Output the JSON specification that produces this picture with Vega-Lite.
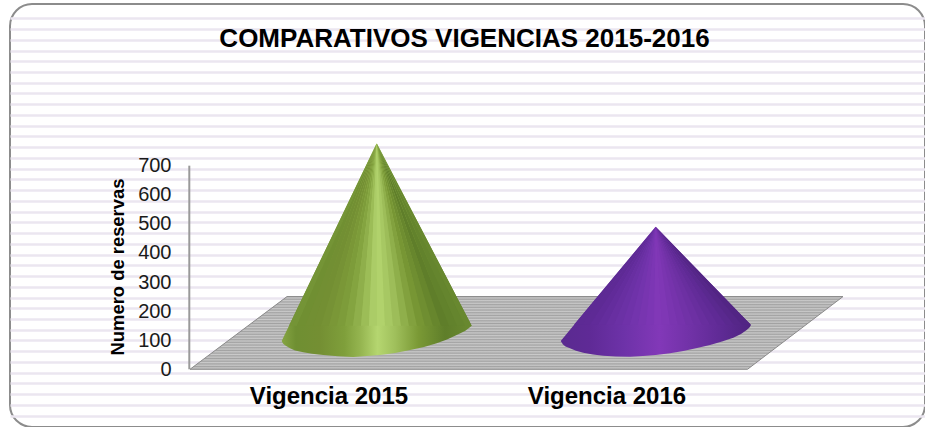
{"$schema":"https://vega.github.io/schema/vega-lite/v6.json","width":915,"height":423,"autosize":{"type":"none"},"padding":{"left":10,"top":4,"right":0,"bottom":0},"background":"white","config":{"font":"Liberation Sans","view":{"stroke":"#8c8c8c","strokeWidth":2,"cornerRadius":22,"fill":"white"}},"title":{"text":"COMPARATIVOS VIGENCIAS 2015-2016","font":"Liberation Sans","fontSize":26,"fontWeight":"bold","color":"#000000","anchor":"middle","dx":-3,"offset":-48},"datasets":{"conos":[{"s":"2015","x":281.7,"sup":97.3,"inf":97.3},{"s":"2015","x":283,"sup":106.6,"inf":88.7},{"s":"2015","x":285,"sup":121,"inf":82.5},{"s":"2015","x":290,"sup":156.8,"inf":72.2},{"s":"2015","x":295,"sup":192.5,"inf":65},{"s":"2015","x":303.3,"sup":251.6,"inf":58.4},{"s":"2015","x":312,"sup":313.5,"inf":53.3},{"s":"2015","x":323.3,"sup":395,"inf":49.2},{"s":"2015","x":338,"sup":499.5,"inf":45},{"s":"2015","x":353.3,"sup":609.5,"inf":42.3},{"s":"2015","x":376.7,"sup":776.9,"inf":48},{"s":"2015","x":380,"sup":755.2,"inf":49.2},{"s":"2015","x":395,"sup":656,"inf":56},{"s":"2015","x":410,"sup":557.2,"inf":66.3},{"s":"2015","x":424,"sup":464.8,"inf":76.7},{"s":"2015","x":436.7,"sup":380.9,"inf":89.4},{"s":"2015","x":447,"sup":312.8,"inf":102.4},{"s":"2015","x":456.7,"sup":248.9,"inf":117.9},{"s":"2015","x":465,"sup":194,"inf":131.7},{"s":"2015","x":469,"sup":167.8,"inf":142},{"s":"2015","x":471.7,"sup":149.9,"inf":149.9},{"s":"2016","x":560.7,"sup":97.3,"inf":97.3},{"s":"2016","x":563,"sup":107,"inf":85},{"s":"2016","x":565.5,"sup":117,"inf":78},{"s":"2016","x":570,"sup":135.8,"inf":72.2},{"s":"2016","x":576,"sup":160.5,"inf":63.6},{"s":"2016","x":583.3,"sup":190.8,"inf":57.1},{"s":"2016","x":593,"sup":231,"inf":50.9},{"s":"2016","x":603.3,"sup":273.3,"inf":46.8},{"s":"2016","x":616,"sup":326,"inf":44.3},{"s":"2016","x":630,"sup":383.6,"inf":43.3},{"s":"2016","x":643,"sup":437.6,"inf":45.7},{"s":"2016","x":655.7,"sup":490.2,"inf":49.2},{"s":"2016","x":670,"sup":439.7,"inf":55.3},{"s":"2016","x":683.3,"sup":392.2,"inf":62.9},{"s":"2016","x":697,"sup":343.8,"inf":73.2},{"s":"2016","x":710,"sup":297.7,"inf":83.5},{"s":"2016","x":722,"sup":255,"inf":95.6},{"s":"2016","x":733.3,"sup":215.2,"inf":108.6},{"s":"2016","x":741,"sup":187.7,"inf":121.3},{"s":"2016","x":746.7,"sup":167.8,"inf":135.1},{"s":"2016","x":749.5,"sup":158.7,"inf":143.7},{"s":"2016","x":751,"sup":152.3,"inf":152.3}],"sectores":[{"w":293,"v":776.9,"a":376.7,"b":376.7},{"w":293,"v":150,"a":289,"b":297},{"w":301,"v":776.9,"a":376.7,"b":376.7},{"w":301,"v":150,"a":297,"b":305},{"w":309,"v":776.9,"a":376.7,"b":376.7},{"w":309,"v":150,"a":305,"b":313},{"w":317,"v":776.9,"a":376.7,"b":376.7},{"w":317,"v":150,"a":313,"b":321},{"w":325,"v":776.9,"a":376.7,"b":376.7},{"w":325,"v":150,"a":321,"b":329},{"w":333,"v":776.9,"a":376.7,"b":376.7},{"w":333,"v":150,"a":329,"b":337},{"w":341,"v":776.9,"a":376.7,"b":376.7},{"w":341,"v":150,"a":337,"b":345},{"w":349,"v":776.9,"a":376.7,"b":376.7},{"w":349,"v":150,"a":345,"b":353},{"w":357,"v":776.9,"a":376.7,"b":376.7},{"w":357,"v":150,"a":353,"b":361},{"w":365,"v":776.9,"a":376.7,"b":376.7},{"w":365,"v":150,"a":361,"b":369},{"w":373,"v":776.9,"a":376.7,"b":376.7},{"w":373,"v":150,"a":369,"b":377},{"w":381,"v":776.9,"a":376.7,"b":376.7},{"w":381,"v":150,"a":377,"b":385},{"w":389,"v":776.9,"a":376.7,"b":376.7},{"w":389,"v":150,"a":385,"b":393},{"w":397,"v":776.9,"a":376.7,"b":376.7},{"w":397,"v":150,"a":393,"b":401},{"w":405,"v":776.9,"a":376.7,"b":376.7},{"w":405,"v":150,"a":401,"b":409},{"w":413,"v":776.9,"a":376.7,"b":376.7},{"w":413,"v":150,"a":409,"b":417},{"w":421,"v":776.9,"a":376.7,"b":376.7},{"w":421,"v":150,"a":417,"b":425},{"w":429,"v":776.9,"a":376.7,"b":376.7},{"w":429,"v":150,"a":425,"b":433},{"w":437,"v":776.9,"a":376.7,"b":376.7},{"w":437,"v":150,"a":433,"b":441},{"w":445,"v":776.9,"a":376.7,"b":376.7},{"w":445,"v":150,"a":441,"b":449},{"w":453,"v":776.9,"a":376.7,"b":376.7},{"w":453,"v":150,"a":449,"b":457},{"w":461,"v":776.9,"a":376.7,"b":376.7},{"w":461,"v":150,"a":457,"b":465},{"w":468,"v":776.9,"a":376.7,"b":376.7},{"w":468,"v":150,"a":465,"b":471.7},{"w":578,"v":490.2,"a":655.7,"b":655.7},{"w":578,"v":153,"a":574,"b":582},{"w":586,"v":490.2,"a":655.7,"b":655.7},{"w":586,"v":153,"a":582,"b":590},{"w":594,"v":490.2,"a":655.7,"b":655.7},{"w":594,"v":153,"a":590,"b":598},{"w":602,"v":490.2,"a":655.7,"b":655.7},{"w":602,"v":153,"a":598,"b":606},{"w":610,"v":490.2,"a":655.7,"b":655.7},{"w":610,"v":153,"a":606,"b":614},{"w":618,"v":490.2,"a":655.7,"b":655.7},{"w":618,"v":153,"a":614,"b":622},{"w":626,"v":490.2,"a":655.7,"b":655.7},{"w":626,"v":153,"a":622,"b":630},{"w":634,"v":490.2,"a":655.7,"b":655.7},{"w":634,"v":153,"a":630,"b":638},{"w":642,"v":490.2,"a":655.7,"b":655.7},{"w":642,"v":153,"a":638,"b":646},{"w":650,"v":490.2,"a":655.7,"b":655.7},{"w":650,"v":153,"a":646,"b":654},{"w":658,"v":490.2,"a":655.7,"b":655.7},{"w":658,"v":153,"a":654,"b":662},{"w":666,"v":490.2,"a":655.7,"b":655.7},{"w":666,"v":153,"a":662,"b":670},{"w":674,"v":490.2,"a":655.7,"b":655.7},{"w":674,"v":153,"a":670,"b":678},{"w":682,"v":490.2,"a":655.7,"b":655.7},{"w":682,"v":153,"a":678,"b":686},{"w":690,"v":490.2,"a":655.7,"b":655.7},{"w":690,"v":153,"a":686,"b":694},{"w":698,"v":490.2,"a":655.7,"b":655.7},{"w":698,"v":153,"a":694,"b":702},{"w":706,"v":490.2,"a":655.7,"b":655.7},{"w":706,"v":153,"a":702,"b":710},{"w":714,"v":490.2,"a":655.7,"b":655.7},{"w":714,"v":153,"a":710,"b":718},{"w":722,"v":490.2,"a":655.7,"b":655.7},{"w":722,"v":153,"a":718,"b":726},{"w":730,"v":490.2,"a":655.7,"b":655.7},{"w":730,"v":153,"a":726,"b":734},{"w":738,"v":490.2,"a":655.7,"b":655.7},{"w":738,"v":153,"a":734,"b":742},{"w":746,"v":490.2,"a":655.7,"b":655.7},{"w":746,"v":153,"a":742,"b":750.8}]},"resolve":{"scale":{"y":"independent"},"axis":{"y":"independent"}},"layer":[{"data":{"values":[{"p":0}]},"mark":{"type":"rule","opacity":0},"encoding":{"y":{"field":"p","type":"quantitative","scale":{"domain":[423,0],"nice":false,"zero":false},"axis":{"orient":"right","title":null,"labels":false,"ticks":false,"domain":false,"grid":true,"gridColor":"#ebe6f0","gridWidth":2.4,"values":[14.2,25,35.7,46.5,57.2,67.9,78.7,89.4,100.2,110.9,121.6,132.4,143.1,153.9,164.6,175.3,186.1,196.8,207.6,218.3,229,239.8,250.5,261.3,272,282.7,293.5,304.2,315,325.7,336.4,347.2,357.9,368.7,379.4,390.1,400.9,411.6]}}}},{"data":{"values":[{"x":190,"x2":747.5,"v":0},{"x":287,"x2":843,"v":250}]},"mark":{"type":"area","orient":"horizontal","stroke":"#8a8a8a","strokeWidth":1,"color":{"gradient":"linear","x1":0,"y1":0,"x2":0,"y2":1,"stops":[{"offset":0,"color":"#a2a2a2"},{"offset":0.0185,"color":"#cacaca"},{"offset":0.037,"color":"#a2a2a2"},{"offset":0.0556,"color":"#cacaca"},{"offset":0.0741,"color":"#a2a2a2"},{"offset":0.0926,"color":"#cacaca"},{"offset":0.1111,"color":"#a2a2a2"},{"offset":0.1296,"color":"#cacaca"},{"offset":0.1481,"color":"#a2a2a2"},{"offset":0.1667,"color":"#cacaca"},{"offset":0.1852,"color":"#a2a2a2"},{"offset":0.2037,"color":"#cacaca"},{"offset":0.2222,"color":"#a2a2a2"},{"offset":0.2407,"color":"#cacaca"},{"offset":0.2593,"color":"#a2a2a2"},{"offset":0.2778,"color":"#cacaca"},{"offset":0.2963,"color":"#a2a2a2"},{"offset":0.3148,"color":"#cacaca"},{"offset":0.3333,"color":"#a2a2a2"},{"offset":0.3519,"color":"#cacaca"},{"offset":0.3704,"color":"#a2a2a2"},{"offset":0.3889,"color":"#cacaca"},{"offset":0.4074,"color":"#a2a2a2"},{"offset":0.4259,"color":"#cacaca"},{"offset":0.4444,"color":"#a2a2a2"},{"offset":0.463,"color":"#cacaca"},{"offset":0.4815,"color":"#a2a2a2"},{"offset":0.5,"color":"#cacaca"},{"offset":0.5185,"color":"#a2a2a2"},{"offset":0.537,"color":"#cacaca"},{"offset":0.5556,"color":"#a2a2a2"},{"offset":0.5741,"color":"#cacaca"},{"offset":0.5926,"color":"#a2a2a2"},{"offset":0.6111,"color":"#cacaca"},{"offset":0.6296,"color":"#a2a2a2"},{"offset":0.6481,"color":"#cacaca"},{"offset":0.6667,"color":"#a2a2a2"},{"offset":0.6852,"color":"#cacaca"},{"offset":0.7037,"color":"#a2a2a2"},{"offset":0.7222,"color":"#cacaca"},{"offset":0.7407,"color":"#a2a2a2"},{"offset":0.7593,"color":"#cacaca"},{"offset":0.7778,"color":"#a2a2a2"},{"offset":0.7963,"color":"#cacaca"},{"offset":0.8148,"color":"#a2a2a2"},{"offset":0.8333,"color":"#cacaca"},{"offset":0.8519,"color":"#a2a2a2"},{"offset":0.8704,"color":"#cacaca"},{"offset":0.8889,"color":"#a2a2a2"},{"offset":0.9074,"color":"#cacaca"},{"offset":0.9259,"color":"#a2a2a2"},{"offset":0.9444,"color":"#cacaca"},{"offset":0.963,"color":"#a2a2a2"},{"offset":0.9815,"color":"#cacaca"},{"offset":1,"color":"#a2a2a2"}]}},"encoding":{"y":{"field":"v","type":"quantitative","scale":{"domain":[-198.4,1255.8],"nice":false,"zero":false},"axis":null},"x":{"field":"x","type":"quantitative","scale":{"domain":[10,925],"nice":false,"zero":false},"axis":null},"x2":{"field":"x2"}}},{"data":{"values":[{"a":189.3,"v0":0,"v1":700}]},"mark":{"type":"rule","color":"#9a9a9a","strokeWidth":2},"encoding":{"x":{"field":"a","type":"quantitative","axis":null},"y":{"field":"v0","type":"quantitative","scale":{"domain":[-198.4,1255.8],"nice":false,"zero":false},"axis":{"orient":"left","title":"Numero de reservas","values":[0,100,200,300,400,500,600,700],"ticks":false,"domain":false,"grid":false,"offset":-170,"labelPadding":9,"labelFont":"Liberation Sans","labelFontSize":20,"labelColor":"#1a1a1a","titleFont":"Liberation Sans","titleFontSize":18.4,"titleFontWeight":"bold","titleColor":"#000000","titleY":262.5,"titleX":-63,"titleAngle":-90,"titleAlign":"center","titleBaseline":"middle"}},"y2":{"field":"v1"}}},{"data":{"name":"conos"},"transform":[{"filter":"datum.s==='2015'"}],"mark":{"type":"area","color":{"gradient":"linear","x1":0,"y1":0,"x2":1,"y2":0,"stops":[{"offset":0,"color":"#86a543"},{"offset":0.075,"color":"#6f8f32"},{"offset":0.2,"color":"#748f33"},{"offset":0.33,"color":"#7f9f3b"},{"offset":0.415,"color":"#95b550"},{"offset":0.505,"color":"#b5d670"},{"offset":0.595,"color":"#a0c05c"},{"offset":0.72,"color":"#7a9935"},{"offset":0.86,"color":"#5f7e2a"},{"offset":1,"color":"#6a8a30"}]}},"encoding":{"x":{"field":"x","type":"quantitative","axis":null},"y":{"field":"sup","type":"quantitative","scale":{"domain":[-198.4,1255.8],"nice":false,"zero":false},"axis":null},"y2":{"field":"inf"}}},{"data":{"name":"conos"},"transform":[{"filter":"datum.s==='2016'"}],"mark":{"type":"area","color":{"gradient":"linear","x1":0,"y1":0,"x2":1,"y2":0,"stops":[{"offset":0,"color":"#5a2a90"},{"offset":0.15,"color":"#5f2a96"},{"offset":0.33,"color":"#6d32a8"},{"offset":0.52,"color":"#8238b8"},{"offset":0.67,"color":"#7232a8"},{"offset":0.85,"color":"#5e2a94"},{"offset":1,"color":"#4f2480"}]}},"encoding":{"x":{"field":"x","type":"quantitative","axis":null},"y":{"field":"sup","type":"quantitative","scale":{"domain":[-198.4,1255.8],"nice":false,"zero":false},"axis":null},"y2":{"field":"inf"}}},{"data":{"name":"sectores"},"mark":{"type":"area","orient":"horizontal"},"encoding":{"y":{"field":"v","type":"quantitative","scale":{"domain":[-198.4,1255.8],"nice":false,"zero":false},"axis":null},"x":{"field":"a","type":"quantitative","axis":null},"x2":{"field":"b"},"detail":{"field":"w"},"color":{"field":"w","type":"quantitative","legend":null,"scale":{"domain":[282,296,320,345,361,378,395,418,445,472,561,589,623,660,689,723,751],"range":["#86a543","#6f8f32","#748f33","#7f9f3b","#95b550","#b5d670","#a0c05c","#7a9935","#5f7e2a","#6a8a30","#5a2a90","#5f2a96","#6d32a8","#8238b8","#7232a8","#5e2a94","#4f2480"]}}}},{"data":{"values":[{"etiqueta":"Vigencia 2015","x":329,"base":-119.3},{"etiqueta":"Vigencia 2016","x":607,"base":-119.3}]},"mark":{"type":"text","font":"Liberation Sans","fontSize":24,"fontWeight":"bold","color":"#000000","align":"center","baseline":"alphabetic"},"encoding":{"x":{"field":"x","type":"quantitative","axis":null},"y":{"field":"base","type":"quantitative","scale":{"domain":[-198.4,1255.8],"nice":false,"zero":false},"axis":null},"text":{"field":"etiqueta"}}}]}
